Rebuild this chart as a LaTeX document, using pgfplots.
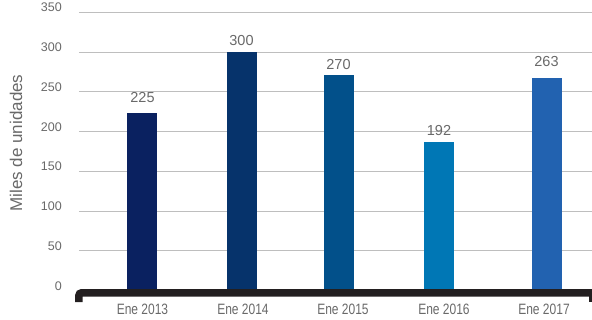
\documentclass[border=0pt]{standalone}
\usepackage{fontspec}
\setmainfont{Liberation Sans}
\newfontfamily\condfont[FakeStretch=0.8]{Liberation Sans}
\usepackage{pgfplots}
\pgfplotsset{compat=1.18}
\definecolor{cA}{RGB}{10,33,96}
\definecolor{cB}{RGB}{6,51,107}
\definecolor{cC}{RGB}{2,80,138}
\definecolor{cD}{RGB}{0,119,181}
\definecolor{cE}{RGB}{34,98,176}
\definecolor{gridc}{RGB}{190,190,190}
\definecolor{txt}{RGB}{105,105,105}
\definecolor{blk}{RGB}{35,31,32}
\begin{document}
\begin{tikzpicture}
\begin{axis}[
  scale only axis, width=513pt, height=278.2pt,
  xmin=79, xmax=592, ymin=0, ymax=350,
  axis line style={draw=none}, tick style={draw=none}, major tick length=0pt,
  ytick={0,50,...,350}, ymajorgrids, grid style={gridc, line width=1pt},
  xtick={142.5,243,343,444,544},
  xticklabels={Ene 2013,Ene 2014,Ene 2015,Ene 2016,Ene 2017},
  xticklabel style={font=\condfont\fontsize{15}{15}\selectfont, text=txt, anchor=base, inner sep=0pt, yshift=-24pt},
  yticklabel style={font=\fontsize{12.5}{12.5}\selectfont, text=txt, anchor=base east, inner sep=0pt, xshift=-17pt, yshift=0.5pt},
  /pgf/number format/assume math mode=true,
  ylabel={Miles de unidades},
  ylabel style={font=\fontsize{17}{17}\selectfont, text=txt, at={(axis description cs:-0.1228,0.53)}, anchor=center},
  ybar, bar width=30pt, bar shift=0pt,
  point meta=explicit symbolic, nodes near coords,
  nodes near coords style={font=\fontsize{14.5}{14.5}\selectfont, text=txt, anchor=base, inner sep=0pt},
  clip=false,
]
\addplot[fill=cA, draw=none, nodes near coords style={yshift=11pt}] coordinates {(142.5,223) [225]};
\addplot[fill=cB, draw=none, nodes near coords style={yshift=7pt}] coordinates {(241.5,300) [300]};
\addplot[fill=cC, draw=none, nodes near coords style={yshift=6pt}] coordinates {(338.5,271) [270]};
\addplot[fill=cD, draw=none, nodes near coords style={yshift=6pt}] coordinates {(439,187) [192]};
\addplot[fill=cE, draw=none, nodes near coords style={yshift=12pt}] coordinates {(546.5,267) [263]};
\draw[line width=7.5pt, blk, rounded corners=3pt] ([yshift=-11.5pt]axis cs:78.8,0) -- ([yshift=-2.25pt]axis cs:78.8,0) -- ([yshift=-2.25pt]axis cs:592,0);
\fill[blk] ([xshift=-3pt,yshift=-2pt]axis cs:592,0) rectangle ([yshift=-11.5pt]axis cs:592,0);
\end{axis}
\pgfresetboundingbox
\path[use as bounding box] (-79pt,-28.5pt) rectangle (513pt,290.5pt);
\end{tikzpicture}
\end{document}
